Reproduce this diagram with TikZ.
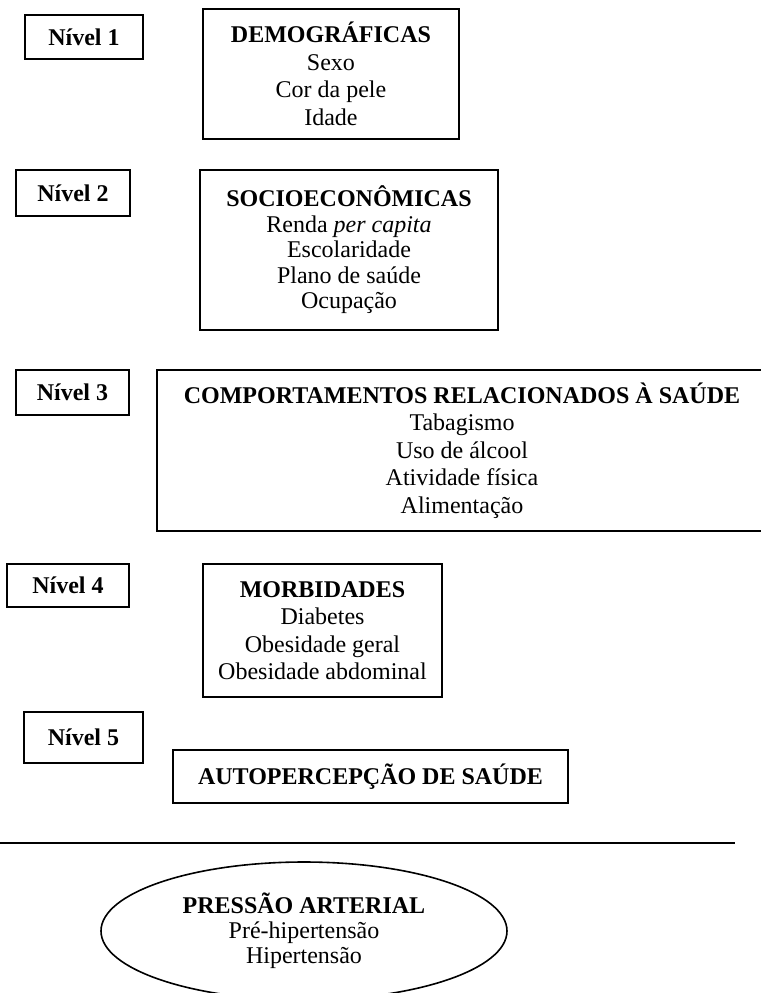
\documentclass[tikz,border=0pt]{standalone}
\usepackage{fontspec}
\setmainfont{Liberation Serif}
\usetikzlibrary{shapes.geometric}
\begin{document}
\begin{tikzpicture}[x=0.5pt,y=-0.5pt,
    every node/.style={font=\fontsize{12}{13.75}\selectfont,inner sep=0pt,align=center},
    lvl/.style={draw=black,line width=0.8pt,font=\fontsize{12}{13.75}\selectfont\bfseries},
    grp/.style={draw=black,line width=0.8pt}]
    \useasboundingbox (0,0) rectangle (761,993);

    \node[lvl,minimum width=59pt,minimum height=22pt] (n1) at (84,37) {Nível 1};
    \node[grp,minimum width=128pt,minimum height=65pt] (demo) at (331,74)
        {\textbf{DEMOGRÁFICAS}\\Sexo\\Cor da pele\\Idade};

    \node[lvl,minimum width=57pt,minimum height=23pt] (n2) at (73,193) {Nível 2};
    \node[grp,minimum width=149pt,minimum height=80pt,font=\fontsize{12}{12.75}\selectfont] (socio) at (349,250)
        {\textbf{SOCIOECONÔMICAS}\\Renda \textit{per capita}\\Escolaridade\\Plano de saúde\\Ocupação};

    \node[lvl,minimum width=56.5pt,minimum height=22.5pt] (n3) at (72.5,392.5) {Nível 3};
    \node[grp,minimum width=305pt,minimum height=80.5pt] (comp) at (462,450.5)
        {\textbf{COMPORTAMENTOS RELACIONADOS À SAÚDE}\\Tabagismo\\Uso de álcool\\Atividade física\\Alimentação};

    \node[lvl,minimum width=61pt,minimum height=21.5pt] (n4) at (68,585.5) {Nível 4};
    \node[grp,minimum width=119.5pt,minimum height=66.5pt] (morb) at (322.5,630.5)
        {\textbf{MORBIDADES}\\Diabetes\\Obesidade geral\\Obesidade abdominal};

    \node[lvl,minimum width=59.5pt,minimum height=25.5pt] (n5) at (83.5,737.5) {Nível 5};
    \node[grp,minimum width=197.5pt,minimum height=26.5pt] (auto) at (370.5,776.5)
        {\textbf{AUTOPERCEPÇÃO DE SAÚDE}};

    % linha divisoria
    \coordinate (esq) at (0,843);
    \coordinate (dir) at (735,843);
    \draw[line width=0.8pt] (esq) -- (dir);

    \node[grp,ellipse,minimum width=203pt,minimum height=69pt,font=\fontsize{12}{12.5}\selectfont] (pa) at (304,931)
        {\textbf{PRESSÃO ARTERIAL}\\Pré-hipertensão\\Hipertensão};
\end{tikzpicture}
\end{document}
